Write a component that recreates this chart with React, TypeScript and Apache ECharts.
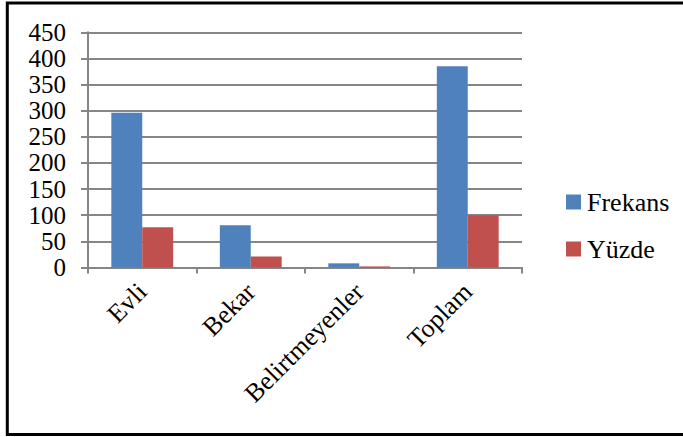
import React, { useEffect, useRef } from "react";
import * as echarts from "echarts";

const categories = ["Evli", "Bekar", "Belirtmeyenler", "Toplam"];
const frekans = [296, 81, 8, 385];
const yuzde = [76.9, 21.0, 2.1, 100];
const seriesNames = ["Frekans", "Yüzde"];

const FONT = "Liberation Serif";

export default function App() {
  const ref = useRef<HTMLDivElement>(null);
  useEffect(() => {
    if (!ref.current) return;
    const chart = echarts.init(ref.current, undefined, { renderer: "svg" });
    chart.setOption({
      animation: false,
      backgroundColor: "#ffffff",
      textStyle: { fontFamily: FONT, color: "#000" },
      graphic: [
        {
          type: "rect",
          shape: { x: 7.3, y: 3, width: 700, height: 431.5 },
          style: { fill: "none", stroke: "#000", lineWidth: 3 },
          silent: true,
          z: 100,
        },
      ],
      grid: { left: 88, right: 161, top: 32.3, bottom: 169.5, containLabel: false },
      legend: {
        orient: "vertical",
        left: 561,
        top: 184,
        itemWidth: 15,
        itemHeight: 15,
        itemGap: 21,
        icon: "rect",
        textStyle: { fontFamily: FONT, fontSize: 26, color: "#000", padding: [0, 0, 0, 1] },
        data: seriesNames,
      },
      xAxis: {
        type: "category",
        data: categories,
        axisLine: { lineStyle: { color: "#868686", width: 2 } },
        axisTick: { show: true, length: 6, lineStyle: { color: "#868686", width: 2 } },
        axisLabel: {
          rotate: 45,
          margin: 20,
          fontFamily: FONT,
          fontSize: 26,
          color: "#000",
          interval: 0,
        },
      },
      yAxis: {
        type: "value",
        min: 0,
        max: 450,
        interval: 50,
        axisLine: { show: true, lineStyle: { color: "#868686", width: 2 } },
        axisTick: { show: true, length: 7, lineStyle: { color: "#868686", width: 2 } },
        splitLine: { show: true, lineStyle: { color: "#868686", width: 2 } },
        axisLabel: { margin: 22, fontFamily: FONT, fontSize: 25, color: "#000" },
      },
      series: [
        {
          name: seriesNames[0],
          type: "bar",
          data: frekans,
          itemStyle: { color: "#4F81BD" },
          barGap: "0%",
          barCategoryGap: "43%",
        },
        {
          name: seriesNames[1],
          type: "bar",
          data: yuzde,
          itemStyle: { color: "#C0504D" },
          barGap: "0%",
          barCategoryGap: "43%",
        },
      ],
    });
    return () => chart.dispose();
  }, []);
  return (
    <div
      ref={ref}
      style={{ position: "fixed", left: 0, top: 0, width: 683, height: 437 }}
    />
  );
}
